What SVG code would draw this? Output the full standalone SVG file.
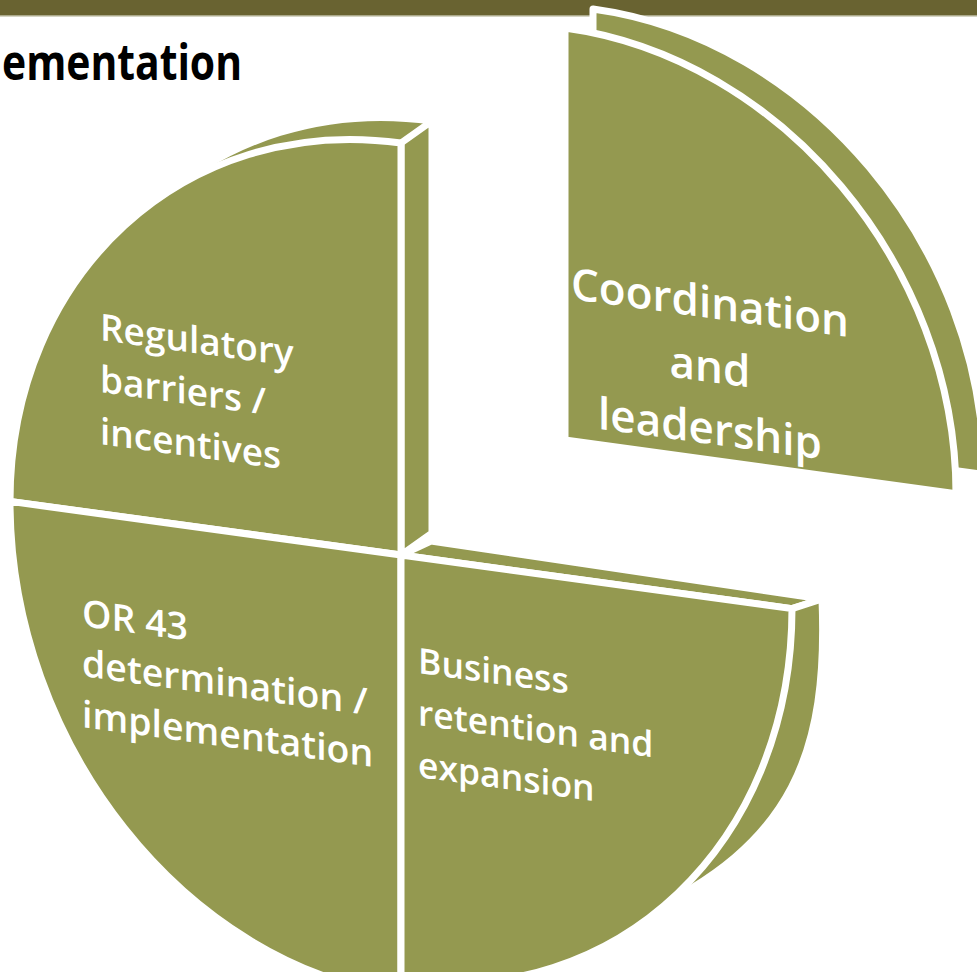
<svg xmlns="http://www.w3.org/2000/svg" width="977" height="972" viewBox="0 0 977 972">
<style>
.f{fill:#949950;stroke:#ffffff;stroke-width:7;stroke-linejoin:round}
.lbl{fill:#ffffff;font-family:"Open Sans","Noto Sans",sans-serif;font-weight:600}
.title{fill:#000000;font-family:"Open Sans","Liberation Sans",sans-serif;font-weight:bold;font-size:50px}
</style>
<rect x="0" y="0" width="977" height="972" fill="#ffffff"/>
<g id="topbar">
<rect x="0" y="0" width="977" height="15" fill="#696331"/>
<rect x="0" y="15" width="977" height="1.5" fill="#aba98a"/>
</g>
<g id="title">
<text class="title" x="2" y="80" textLength="240" lengthAdjust="spacingAndGlyphs">ementation</text>
</g>
<g id="coordination">
<path class="f" d="M593,421 L593,9 C809,38.6 984,247.1 984,474.6 Z"/>
<path class="f" d="M565,440 L565,28 C781,57.6 956,266.1 956,493.6 Z"/>
<g transform="translate(710,0) skewY(7.8)">
<text class="lbl" font-size="44" text-anchor="middle" x="0" y="318">Coordination</text>
<text class="lbl" font-size="44" text-anchor="middle" x="0" y="382">and</text>
<text class="lbl" font-size="44" text-anchor="middle" x="0" y="444">leadership</text>
</g>
</g>
<g id="regulatory">
<path class="f" d="M432,533 L41,479.4 C41,251.9 216,91.4 432,121 Z"/>
<path class="f" d="M401,143 L432,121 L432,533 L401,555 Z"/>
<path class="f" d="M401,555 L10,501.4 C10,273.9 185,113.4 401,143 Z"/>
<g transform="translate(100,0) skewY(7.8)">
<text class="lbl" font-size="37" x="0" y="340">Regulatory</text>
<text class="lbl" font-size="37" x="0" y="392">barriers /</text>
<text class="lbl" font-size="37" x="0" y="444">incentives</text>
</g>
</g>
<g id="or43">
<path class="f" d="M401,555 L10,501.4 C10,744.4 185,965.4 401,995 Z"/>
<g transform="translate(82,0) skewY(7.8)">
<text class="lbl" font-size="37.5" x="0" y="626">OR 43</text>
<text class="lbl" font-size="37.5" x="0" y="676">determination /</text>
<text class="lbl" font-size="37.5" x="0" y="727">implementation</text>
</g>
</g>
<g id="business">
<path class="f" d="M401,555 L431,541 L822,599 L792,608.6 Z"/>
<path class="f" d="M792,608.6 L822,599 C828,750 795,845 640,915 L620,820 Z"/>
<path class="f" d="M401,555 L401,980 C617,1009.6 792,843.3 792,608.6 Z"/>
<g transform="translate(418,0) skewY(7.8)">
<text class="lbl" font-size="35.5" x="0" y="673">Business</text>
<text class="lbl" font-size="35.5" x="0" y="725">retention and</text>
<text class="lbl" font-size="35.5" x="0" y="777">expansion</text>
</g>
</g>
<g id="connectors"></g>
</svg>
